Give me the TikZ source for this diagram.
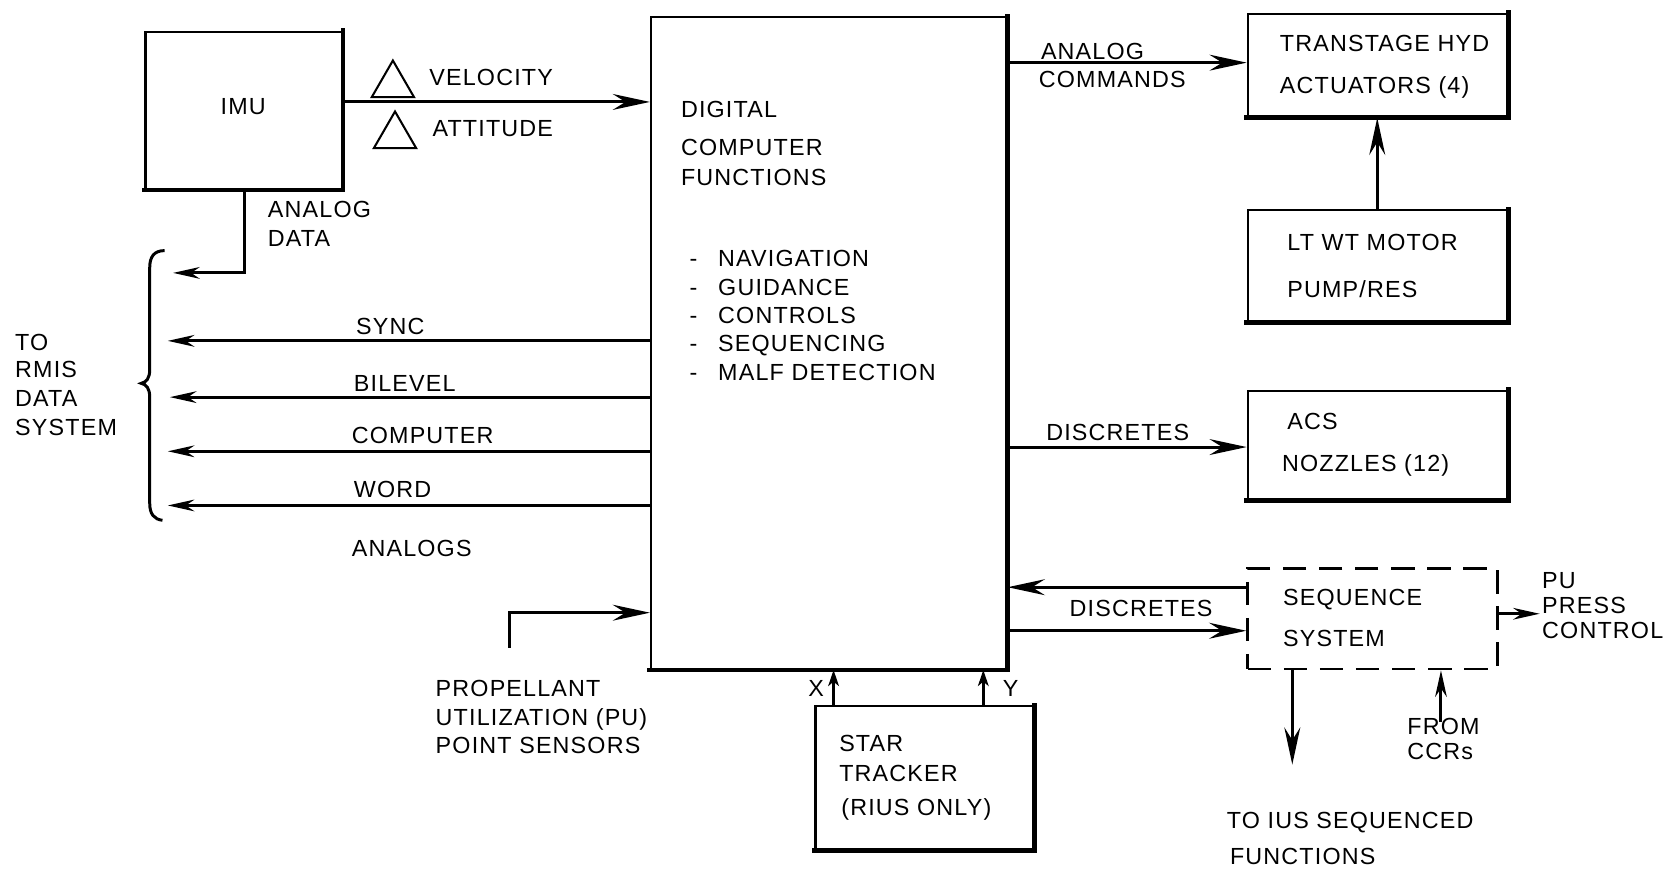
\documentclass[tikz,border=0pt]{standalone}
\usepackage{fontspec}
\setmainfont{Liberation Sans}[LetterSpace=5.0]
\usetikzlibrary{arrows.meta,fit,shapes.geometric}
\begin{document}
\begin{tikzpicture}[x=0.02cm,y=-0.02cm,
  every node/.style={font=\fontsize{12.5}{14}\selectfont},
  box/.style={draw, line width=1.1pt, inner sep=0pt},
  dbox/.style={draw, line width=1.5pt, dash pattern=on 0.44cm off 0.24cm, inner sep=0pt},
  heavyside/.style={line width=2.6pt, line cap=rect},
  txt/.style={inner sep=0pt, text height=8.95pt, text depth=0pt, anchor=west},
  conn/.style={line width=1.6pt, -{Stealth[length=0.7cm,width=0.3cm,inset=0.24cm]}},
  mconn/.style={line width=1.6pt, -{Stealth[length=0.5cm,width=0.22cm,inset=0.16cm]}},
  sconn/.style={line width=1.5pt, -{Stealth[length=0.3cm,width=0.2cm,inset=0.08cm]}},
  tri/.style={draw, line width=1.1pt, regular polygon, regular polygon sides=3, minimum size=0.92cm, inner sep=0pt}
]
\useasboundingbox (0,0) rectangle (1568,818);

% boxes
\node[box, fit={(137,30)(322,178)}] (imu) {};
\node[box, fit={(613,16)(948,630)}] (comp) {};
\node[box, fit={(1175,13)(1420,110)}] (hyd) {};
\node[box, fit={(1175,198)(1420,303)}] (pump) {};
\node[box, fit={(1175,368)(1420,470)}] (acs) {};
\node[dbox, fit={(1175,535)(1410,630)}] (seq) {};
\node[box, fit={(768,665)(973,800)}] (star) {};
\foreach \n in {imu,comp,hyd,pump,acs,star}
  \draw[heavyside] (\n.north east) -- (\n.south east) -- (\n.south west);

% box texts
\node[inner sep=0pt, text height=8.95pt, text depth=0pt] (imut) at (229,100) {IMU};
\node[txt] (c1) at (641,103) {DIGITAL};
\node[txt] (c2) at (641,139) {COMPUTER};
\node[txt] (c3) at (641,167) {FUNCTIONS};
\foreach \t/\yy [count=\i] in {NAVIGATION/243,GUIDANCE/270,CONTROLS/297,SEQUENCING/323,MALF DETECTION/350}{
  \node[txt] (d\i) at (649,\yy) {-};
  \node[txt] (l\i) at (676,\yy) {\t};
}
\node[txt] (h1) at (1205,41) {TRANSTAGE HYD};
\node[txt] (h2) at (1205,80) {ACTUATORS (4)};
\node[txt] (p1) at (1212,228) {LT WT MOTOR};
\node[txt] (p2) at (1212,272) {PUMP/RES};
\node[txt] (a1) at (1212,397) {ACS};
\node[txt] (a2) at (1207,436) {NOZZLES (12)};
\node[txt] (s1) at (1208,562) {SEQUENCE};
\node[txt] (s2) at (1208,601) {SYSTEM};
\node[txt] (t1) at (790,700) {STAR};
\node[txt] (t2) at (790,728) {TRACKER};
\node[txt] (t3) at (792,760) {(RIUS ONLY)};

% IMU -> computer
\coordinate (yv) at (0,96);
\draw[conn] (imu.east |- yv) -- (comp.west |- yv);
\node[tri] (dv) at (370,80) {};
\node[tri] (da) at (372,128) {};
\node[txt] (vel) at (404,73) {VELOCITY};
\node[txt] (att) at (407,121) {ATTITUDE};

% analog data
\coordinate (xa) at (230,0);
\coordinate (bA) at (163,257);
\draw[mconn] (imu.south -| xa) |- (bA);
\node[txt] (ad1) at (252,197) {ANALOG};
\node[txt] (ad2) at (252,224) {DATA};

% brace
\draw[line width=1.6pt] (155,236) .. controls (145,236) and (141,242) .. (141,252)
  -- (141,348) .. controls (141,356) and (138,360) .. (133,361)
  .. controls (138,362) and (141,366) .. (141,374)
  -- (141,474) .. controls (141,484) and (145,489) .. (153,490);
\node[txt] (r1) at (14,322) {TO};
\node[txt] (r2) at (14,348) {RMIS};
\node[txt] (r3) at (14,375) {DATA};
\node[txt] (r4) at (14,402) {SYSTEM};

% computer -> RMIS
\coordinate (bS) at (158,321);
\coordinate (bB) at (160,374);
\coordinate (bC) at (158,425);
\coordinate (bW) at (158,476);
\draw[mconn] (comp.west |- bS) -- (bS);
\draw[mconn] (comp.west |- bB) -- (bB);
\draw[mconn] (comp.west |- bC) -- (bC);
\draw[mconn] (comp.west |- bW) -- (bW);
\node[txt] (sync) at (335,307) {SYNC};
\node[txt] (bil) at (333,361) {BILEVEL};
\node[txt] (cw) at (331,410) {COMPUTER};
\node[txt] (wd) at (333,461) {WORD};
\node[txt] (ang) at (331,516) {ANALOGS};

% propellant utilization
\coordinate (pu0) at (480,610);
\coordinate (ypu) at (0,577);
\draw[conn] (pu0) |- (comp.west |- ypu);
\node[txt] (pr1) at (410,648) {PROPELLANT};
\node[txt] (pr2) at (410,675) {UTILIZATION (PU)};
\node[txt] (pr3) at (410,702) {POINT SENSORS};

% star tracker
\coordinate (xx) at (785,0);
\coordinate (xy) at (926,0);
\draw[sconn] (star.north -| xx) -- (comp.south -| xx);
\draw[sconn] (star.north -| xy) -- (comp.south -| xy);
\node[txt] (xl) at (761,648) {X};
\node[txt] (yl) at (944,648) {Y};

% right side
\coordinate (yac) at (0,59);
\draw[conn] (comp.east |- yac) -- (hyd.west |- yac);
\node[txt] (ac1) at (980,48) {ANALOG};
\node[txt] (ac2) at (978,75) {COMMANDS};
\coordinate (xp) at (1297,0);
\draw[conn] (pump.north -| xp) -- (hyd.south -| xp);
\coordinate (yds) at (0,421);
\draw[conn] (comp.east |- yds) -- (acs.west |- yds);
\node[txt] (ds1) at (985,407) {DISCRETES};
\coordinate (ysl) at (0,553);
\coordinate (ysr) at (0,594);
\draw[conn] (seq.west |- ysl) -- (comp.east |- ysl);
\draw[conn] (comp.east |- ysr) -- (seq.west |- ysr);
\node[txt] (ds2) at (1007,573) {DISCRETES};

\coordinate (pp) at (1450,578);
\draw[mconn] (seq.east |- pp) -- (pp);
\node[txt] (pc1) at (1452,546) {PU};
\node[txt] (pc2) at (1452,570) {PRESS};
\node[txt] (pc3) at (1452,593) {CONTROL};

\coordinate (tius) at (1217,720);
\draw[conn] (seq.south -| tius) -- (tius);
\coordinate (ccr) at (1357,680);
\draw[mconn] (ccr) -- (seq.south -| ccr);
\node[txt] (f1) at (1325,684) {FROM};
\node[txt] (f2) at (1325,707) {CCRs};
\node[txt] (ti1) at (1155,772) {TO IUS SEQUENCED};
\node[txt] (ti2) at (1158,806) {FUNCTIONS};
\end{tikzpicture}
\end{document}
